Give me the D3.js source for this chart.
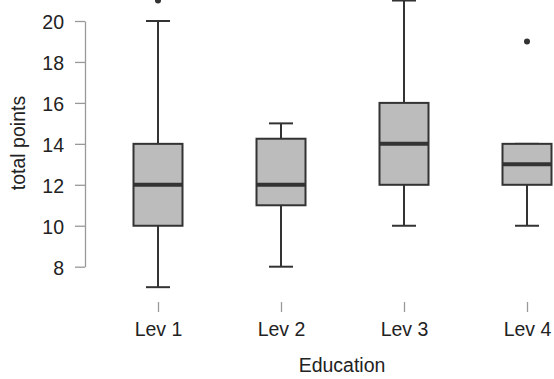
<!DOCTYPE html>
<html>
<head>
<meta charset="utf-8">
<script src="https://cdn.jsdelivr.net/npm/d3@7"></script>
<style>
  body { margin: 0; background: #fff; }
  text { font-family: "Liberation Sans", Arial, sans-serif; }
</style>
</head>
<body>
<svg id="chart" width="554" height="379"></svg>
<script>
const levels = ["Lev 1", "Lev 2", "Lev 3", "Lev 4"]
const whiskerLow = [7, 8, 10, 10]
const q1 = [10, 11, 12, 12]
const medians = [12, 12, 14, 13]
const q3 = [14, 14.25, 16, 14]
const whiskerHigh = [20, 15, 21, 14]
const outliers = [[21], [], [], [19]]
const yTicks = [8, 10, 12, 14, 16, 18, 20]

const FONT = 19.5
const svg = d3.select("#chart")

const x = d3.scalePoint().domain(levels).range([158, 527])
const y = d3.scaleLinear().domain([8, 20]).range([266.7, 21])

// y axis
const yAxis = svg.append("g").attr("transform", "translate(85,0)")
  .call(d3.axisLeft(y).tickValues(yTicks).tickSize(10).tickSizeOuter(0))
yAxis.select(".domain").attr("stroke", "#999").attr("stroke-width", 1.3)
yAxis.selectAll(".tick line").attr("stroke", "#999").attr("stroke-width", 1.3)
yAxis.selectAll(".tick text")
  .attr("x", -21)
  .attr("dy", "0.38em")
  .attr("font-size", FONT)
  .attr("fill", "#222")
  .style("font-family", "'Liberation Sans', Arial, sans-serif")

// x axis (ticks only, no line)
const xAxis = svg.append("g").attr("transform", "translate(0,302)")
  .call(d3.axisBottom(x).tickSize(10).tickSizeOuter(0))
xAxis.select(".domain").remove()
xAxis.selectAll(".tick line").attr("stroke", "#999").attr("stroke-width", 1.3)
xAxis.selectAll(".tick text")
  .attr("y", 20)
  .attr("font-size", FONT)
  .attr("fill", "#222")
  .style("font-family", "'Liberation Sans', Arial, sans-serif")

svg.append("text")
  .attr("x", 342)
  .attr("y", 372)
  .attr("text-anchor", "middle")
  .attr("font-size", FONT)
  .attr("fill", "#222")
  .text("Education")

svg.append("text")
  .attr("transform", "translate(25,143) rotate(-90)")
  .attr("text-anchor", "middle")
  .attr("font-size", FONT)
  .attr("fill", "#222")
  .text("total points")

const boxW = 49
const capW = 24
const stroke = "#333"

const boxes = svg.append("g").selectAll("g")
  .data(levels)
  .join("g")
  .attr("transform", (d) => `translate(${x(d)},0)`)

// whiskers
boxes.append("line")
  .attr("y1", (d, i) => y(whiskerLow[i]))
  .attr("y2", (d, i) => y(q1[i]))
  .attr("stroke", stroke).attr("stroke-width", 2)
boxes.append("line")
  .attr("y1", (d, i) => y(q3[i]))
  .attr("y2", (d, i) => y(whiskerHigh[i]))
  .attr("stroke", stroke).attr("stroke-width", 2)
boxes.append("line")
  .attr("x1", -capW / 2).attr("x2", capW / 2)
  .attr("y1", (d, i) => y(whiskerLow[i]))
  .attr("y2", (d, i) => y(whiskerLow[i]))
  .attr("stroke", stroke).attr("stroke-width", 2)
boxes.append("line")
  .attr("x1", -capW / 2).attr("x2", capW / 2)
  .attr("y1", (d, i) => y(whiskerHigh[i]))
  .attr("y2", (d, i) => y(whiskerHigh[i]))
  .attr("stroke", stroke).attr("stroke-width", 2)

// box
boxes.append("rect")
  .attr("x", -boxW / 2)
  .attr("width", boxW)
  .attr("y", (d, i) => y(q3[i]))
  .attr("height", (d, i) => y(q1[i]) - y(q3[i]))
  .attr("fill", "#bcbcbc")
  .attr("stroke", stroke)
  .attr("stroke-width", 2)

// median
boxes.append("line")
  .attr("x1", -boxW / 2).attr("x2", boxW / 2)
  .attr("y1", (d, i) => y(medians[i]))
  .attr("y2", (d, i) => y(medians[i]))
  .attr("stroke", stroke).attr("stroke-width", 4)

// outliers
boxes.selectAll("circle")
  .data((d, i) => outliers[i])
  .join("circle")
  .attr("cy", (v) => y(v))
  .attr("r", 3)
  .attr("fill", stroke)
</script>
</body>
</html>
